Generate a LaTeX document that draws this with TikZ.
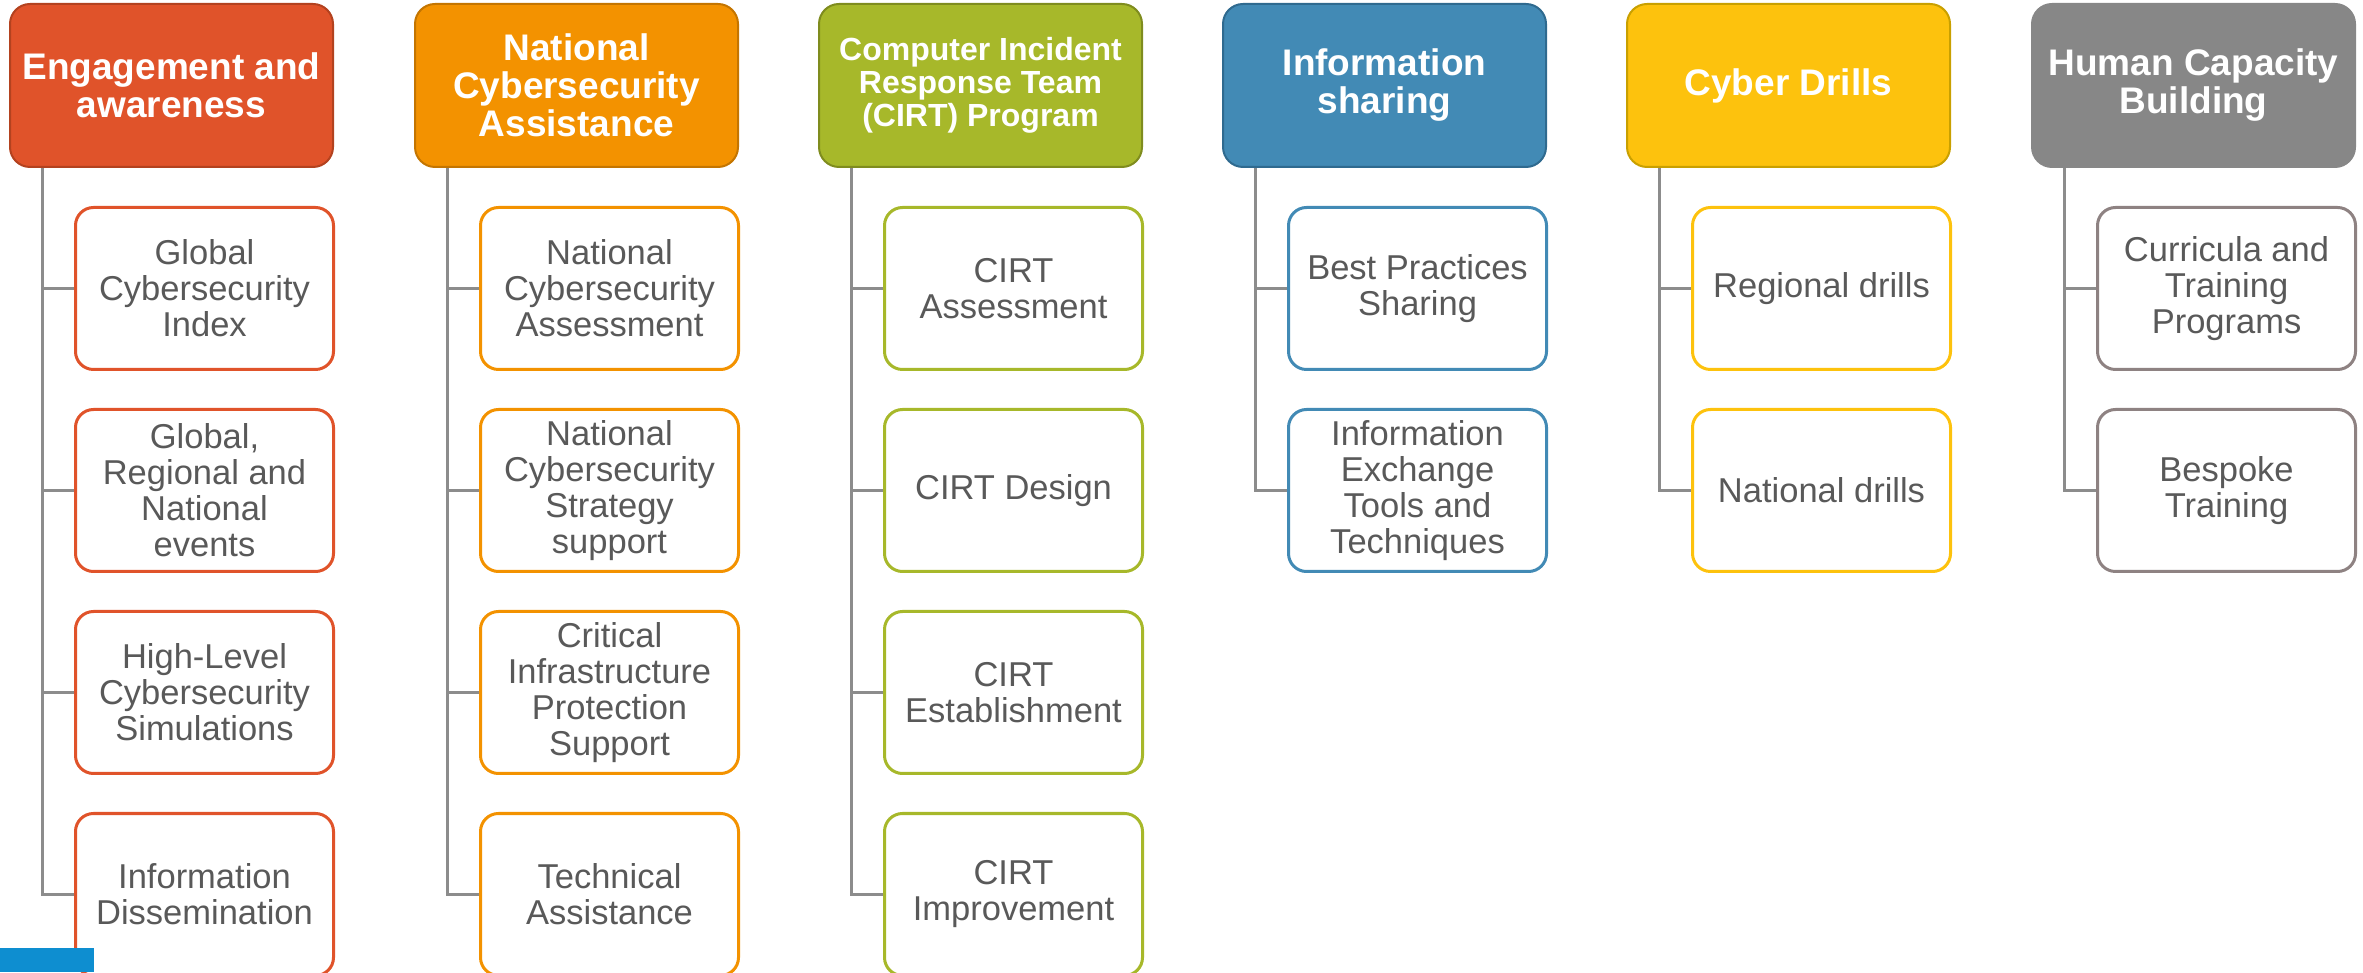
\documentclass[tikz,border=0pt]{standalone}
\usepackage{fontspec}
\setmainfont{Liberation Sans}
\definecolor{engF}{HTML}{E0532A}\definecolor{engD}{HTML}{B3421F}
\definecolor{natF}{HTML}{F39200}\definecolor{natD}{HTML}{C47500}
\definecolor{cirF}{HTML}{A7B82A}\definecolor{cirD}{HTML}{7F8C1E}
\definecolor{infF}{HTML}{428AB5}\definecolor{infD}{HTML}{2F6A8F}
\definecolor{drlF}{HTML}{FDC20D}\definecolor{drlD}{HTML}{C9A000}
\definecolor{humF}{HTML}{878787}\definecolor{humB}{HTML}{8E8282}
\definecolor{txtgray}{HTML}{595959}
\definecolor{linegray}{HTML}{8C8C8C}
\definecolor{cornerblue}{HTML}{0E8ED0}
\newcommand\hdfont{\bfseries\fontsize{37}{38}\selectfont}
\newcommand\hdsmallfont{\bfseries\fontsize{32}{33}\selectfont}
\newcommand\sbfont{\fontsize{34.5}{36}\selectfont}
\tikzset{
  head/.style={rounded corners=20pt, minimum width=323pt, minimum height=163pt,
    inner sep=0pt, anchor=north west, align=center, text=white, font=\hdfont, line width=2pt},
  sub/.style={rounded corners=18pt, minimum width=258pt, minimum height=162pt,
    inner sep=0pt, anchor=north west, align=center, text=txtgray, font=\sbfont,
    line width=3pt, fill=white},
  conn/.style={draw=linegray, line width=3pt}
}
\begin{document}
\begin{tikzpicture}[x=1pt,y=1pt]
\useasboundingbox (0,0) rectangle (2363,972);
% column 1
\node[head, fill=engF, draw=engD] (h1) at (9,969) {Engagement and\\awareness};
\node[sub, draw=engF] (c11) at (74,766) {Global\\Cybersecurity\\Index};
\node[sub, draw=engF] (c12) at (74,564) {Global,\\Regional and\\National\\events};
\node[sub, draw=engF] (c13) at (74,362) {High-Level\\Cybersecurity\\Simulations};
\node[sub, draw=engF] (c14) at (74,160) {Information\\Dissemination};
% column 2
\node[head, fill=natF, draw=natD] (h2) at (414,969) {National\\Cybersecurity\\Assistance};
\node[sub, draw=natF] (c21) at (479,766) {National\\Cybersecurity\\Assessment};
\node[sub, draw=natF] (c22) at (479,564) {National\\Cybersecurity\\Strategy\\support};
\node[sub, draw=natF] (c23) at (479,362) {Critical\\Infrastructure\\Protection\\Support};
\node[sub, draw=natF] (c24) at (479,160) {Technical\\Assistance};
% column 3
\node[head, fill=cirF, draw=cirD, font=\hdsmallfont] (h3) at (818,969) {Computer Incident\\Response Team\\(CIRT) Program};
\node[sub, draw=cirF] (c31) at (883,766) {CIRT\\Assessment};
\node[sub, draw=cirF] (c32) at (883,564) {CIRT Design};
\node[sub, draw=cirF] (c33) at (883,362) {CIRT\\Establishment};
\node[sub, draw=cirF] (c34) at (883,160) {CIRT\\Improvement};
% column 4
\node[head, fill=infF, draw=infD] (h4) at (1222,969) {Information\\sharing};
\node[sub, draw=infF] (c41) at (1287,766) {Best Practices\\Sharing};
\node[sub, draw=infF] (c42) at (1287,564) {Information\\Exchange\\Tools and\\Techniques};
% column 5
\node[head, fill=drlF, draw=drlD] (h5) at (1626,969) {Cyber Drills};
\node[sub, draw=drlF] (c51) at (1691,766) {Regional drills};
\node[sub, draw=drlF] (c52) at (1691,564) {National drills};
% column 6
\node[head, fill=humF, draw=humF] (h6) at (2031,969) {Human Capacity\\Building};
\node[sub, draw=humB] (c61) at (2096,766) {Curricula and\\Training\\Programs};
\node[sub, draw=humB] (c62) at (2096,564) {Bespoke\\Training};
% connectors
\foreach \h/\last/\list in {h1/c14/{c11,c12,c13}, h2/c24/{c21,c22,c23}, h3/c34/{c31,c32,c33},
                           h4/c42/{c41}, h5/c52/{c51}, h6/c62/{c61}}{
  \path (\h.south west) ++(33,0) coordinate (t\h);
  \draw[conn] (t\h) |- (\last.west);
  \foreach \c in \list { \draw[conn] (t\h |- \c.west) -- (\c.west); }
}
% corner mark
\fill[cornerblue] (0,0) rectangle (94,24);
\end{tikzpicture}
\end{document}
